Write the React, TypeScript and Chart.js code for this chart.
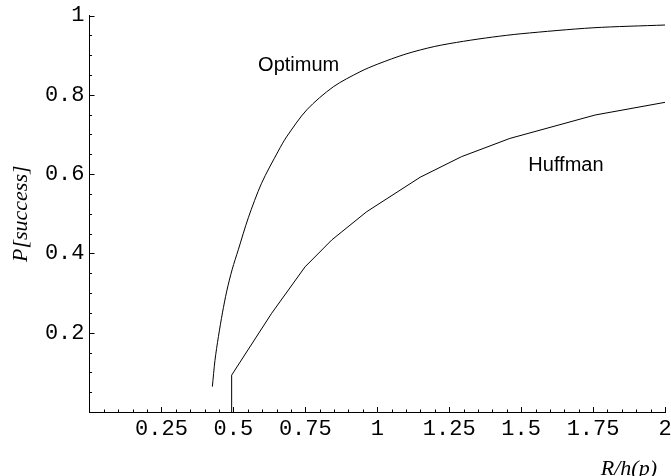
import React, { useEffect, useRef } from "react";
import { Chart, registerables } from "chart.js";

Chart.register(...registerables);

// ---- data ----
const optimumX = [0.427, 0.436, 0.448, 0.462, 0.477, 0.496, 0.517, 0.552, 0.598, 0.656, 0.685, 0.755, 0.847, 0.94, 1.0, 1.1, 1.2, 1.3, 1.4, 1.5, 1.75, 2.0];
const optimumY = [0.064, 0.13, 0.19, 0.25, 0.305, 0.36, 0.409, 0.49, 0.577, 0.658, 0.694, 0.762, 0.82, 0.858, 0.877, 0.903, 0.922, 0.935, 0.9455, 0.954, 0.969, 0.976];

const huffmanX = [0.494, 0.494, 0.633, 0.749, 0.842, 0.963, 1.149, 1.293, 1.461, 1.757, 2.0];
const huffmanY = [0.0, 0.093, 0.249, 0.366, 0.434, 0.505, 0.592, 0.644, 0.69, 0.749, 0.781];

const xTickValues = [0.25, 0.5, 0.75, 1, 1.25, 1.5, 1.75, 2];
const xTickLabels = ["0.25", "0.5", "0.75", "1", "1.25", "1.5", "1.75", "2"];
const yTickValues = [0.2, 0.4, 0.6, 0.8, 1];
const yTickLabels = ["0.2", "0.4", "0.6", "0.8", "1"];
const minorStep = 0.05;

const curveLabels = ["Optimum", "Huffman"];
const curveLabelX = [0.586, 1.525];
const curveLabelY = [0.859, 0.609];

const xTitle = "R/h(p)";
const yTitle = "P[success]";

const tickFont = { family: "Liberation Mono", size: 22 };

const decorPlugin = {
  id: "decor",
  afterDraw(chart: any) {
    const ctx = chart.ctx;
    const xs = chart.scales.x;
    const ys = chart.scales.y;
    const area = chart.chartArea;
    const x0 = xs.getPixelForValue(0);
    const y0 = ys.getPixelForValue(0);
    ctx.save();
    ctx.strokeStyle = "#000";
    ctx.lineWidth = 1;
    const nx = Math.round((xs.max - xs.min) / minorStep);
    for (let i = 1; i <= nx; i++) {
      const v = xs.min + i * minorStep;
      const major = xTickValues.some((t) => Math.abs(t - v) < 1e-6);
      const len = major ? 5 : 2.5;
      const px = Math.round(xs.getPixelForValue(v)) + 0.5;
      ctx.beginPath();
      ctx.moveTo(px, y0);
      ctx.lineTo(px, y0 - len);
      ctx.stroke();
    }
    const ny = Math.round((ys.max - ys.min) / minorStep);
    for (let i = 1; i <= ny; i++) {
      const v = ys.min + i * minorStep;
      const major = yTickValues.some((t) => Math.abs(t - v) < 1e-6);
      const len = major ? 5 : 2.5;
      const py = Math.round(ys.getPixelForValue(v)) + 0.5;
      ctx.beginPath();
      ctx.moveTo(x0, py);
      ctx.lineTo(x0 + len, py);
      ctx.stroke();
    }
    ctx.fillStyle = "#000";
    ctx.font = "20px 'Liberation Sans'";
    ctx.textAlign = "left";
    ctx.textBaseline = "alphabetic";
    curveLabels.forEach((t, i) => {
      ctx.fillText(t, xs.getPixelForValue(curveLabelX[i]), ys.getPixelForValue(curveLabelY[i]));
    });
    ctx.font = "italic 22px 'Liberation Serif'";
    ctx.textAlign = "right";
    ctx.fillText(xTitle, chart.width - 14, chart.height - 1.5);
    ctx.translate(area.left - 63, (area.top + area.bottom) / 2);
    ctx.rotate(-Math.PI / 2);
    ctx.textAlign = "center";
    ctx.fillText(yTitle, 0, 0);
    ctx.restore();
  },
};

export default function App() {
  const ref = useRef<HTMLCanvasElement | null>(null);
  useEffect(() => {
    if (!ref.current) return;
    const chart = new Chart(ref.current, {
      type: "line",
      data: {
        datasets: [
          {
            label: "Optimum",
            data: optimumX.map((x, i) => ({ x, y: optimumY[i] })),
            borderColor: "#000",
            borderWidth: 1,
            pointRadius: 0,
            fill: false,
            tension: 0.3,
          },
          {
            label: "Huffman",
            data: huffmanX.map((x, i) => ({ x, y: huffmanY[i] })),
            borderColor: "#000",
            borderWidth: 1,
            pointRadius: 0,
            fill: false,
            tension: 0,
          },
        ],
      },
      options: {
        responsive: false,
        animation: false,
        layout: { padding: { top: 15.5, right: 6, left: 0, bottom: 0 } },
        plugins: { legend: { display: false }, tooltip: { enabled: false } },
        scales: {
          x: {
            type: "linear",
            min: 0,
            max: 2,
            position: "bottom",
            grid: { display: true, drawOnChartArea: false, drawTicks: false },
            border: { display: true, color: "#000", width: 1 },
            ticks: {
              font: tickFont,
              color: "#000",
              padding: 4,
              autoSkip: false,
              maxRotation: 0,
              callback: (v: any) => {
                const i = xTickValues.findIndex((t) => Math.abs(t - v) < 1e-6);
                return i >= 0 ? xTickLabels[i] : "";
              },
            },
            afterBuildTicks: (s: any) => {
              s.ticks = xTickValues.map((v) => ({ value: v }));
            },
            afterFit: (s: any) => {
              s.height = 64;
              s.paddingLeft = 0;
              s.paddingRight = 0;
            },
          },
          y: {
            type: "linear",
            min: 0,
            max: 1,
            grid: { display: true, drawOnChartArea: false, drawTicks: false },
            border: { display: true, color: "#000", width: 1 },
            ticks: {
              font: tickFont,
              color: "#000",
              padding: 5,
              autoSkip: false,
              callback: (v: any) => {
                const i = yTickValues.findIndex((t) => Math.abs(t - v) < 1e-6);
                return i >= 0 ? yTickLabels[i] : "";
              },
            },
            afterBuildTicks: (s: any) => {
              s.ticks = yTickValues.map((v) => ({ value: v }));
            },
            afterFit: (s: any) => {
              s.width = 89.5;
              s.paddingTop = 0;
              s.paddingBottom = 0;
            },
          },
        },
      },
      plugins: [decorPlugin],
    } as any);
    return () => chart.destroy();
  }, []);
  return (
    <div style={{ position: "absolute", left: 0, top: 0, width: 671, height: 476, background: "#fff" }}>
      <canvas ref={ref} width={671} height={476} />
    </div>
  );
}
